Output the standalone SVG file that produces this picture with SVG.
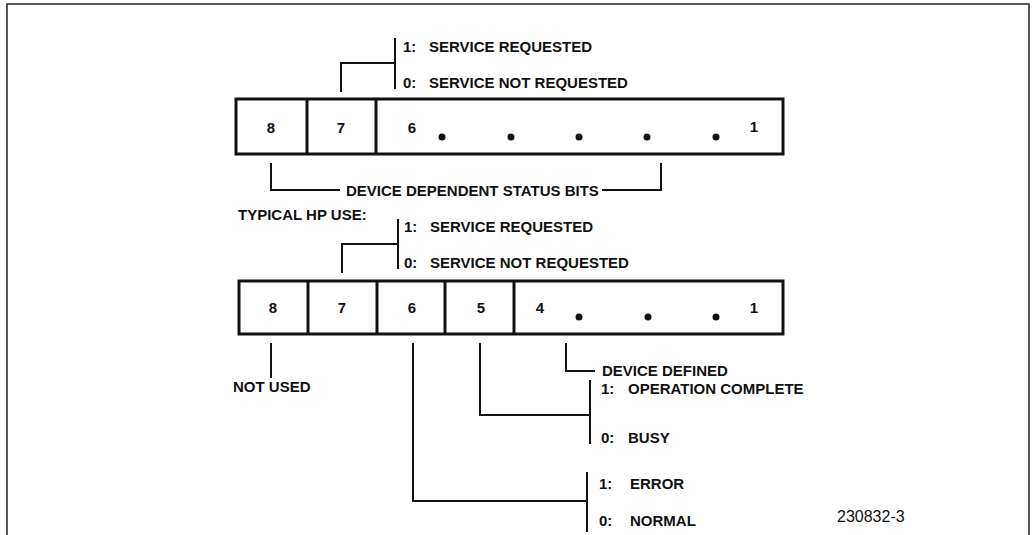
<svg xmlns="http://www.w3.org/2000/svg" width="1036" height="535" viewBox="0 0 1036 535">
<style>
text{font-family:"Liberation Sans",Arial,sans-serif;font-weight:bold;font-size:15px;fill:#111}
.c{text-anchor:middle}
.box{fill:none;stroke:#111;stroke-width:3}
.ln{fill:none;stroke:#111;stroke-width:2}
.frame{fill:none;stroke:#222;stroke-width:1.5}
.dot{fill:#111}
.id{font-weight:normal;font-size:16px}
</style>
<rect width="1036" height="535" fill="#fff"/>
<path class="frame" d="M7,535 V4 H1029 V535"/>

<g id="register-top">
<rect class="box" x="236" y="99" width="547" height="55"/>
<line class="box" x1="307" y1="99" x2="307" y2="154"/>
<line class="box" x1="376" y1="99" x2="376" y2="154"/>
<text class="c" x="271" y="133">8</text>
<text class="c" x="341" y="133">7</text>
<text class="c" x="412" y="133">6</text>
<circle class="dot" cx="442" cy="137" r="3.5"/>
<circle class="dot" cx="511" cy="137" r="3.5"/>
<circle class="dot" cx="579" cy="137" r="3.5"/>
<circle class="dot" cx="647" cy="137" r="3.5"/>
<circle class="dot" cx="716" cy="137" r="3.5"/>
<text class="c" x="754" y="132">1</text>
</g>

<g id="label-top-srq">
<text x="403" y="52">1:</text><text x="429" y="52">SERVICE REQUESTED</text>
<text x="403" y="88">0:</text><text x="429" y="88">SERVICE NOT REQUESTED</text>
</g>
<g id="label-device-dependent">
<text x="346" y="195.5">DEVICE DEPENDENT STATUS BITS</text>
</g>
<g id="label-typical">
<text x="238" y="220">TYPICAL HP USE:</text>
</g>

<g id="register-bottom">
<rect class="box" x="239" y="281" width="544" height="53"/>
<line class="box" x1="308" y1="281" x2="308" y2="334"/>
<line class="box" x1="377" y1="281" x2="377" y2="334"/>
<line class="box" x1="445" y1="281" x2="445" y2="334"/>
<line class="box" x1="514" y1="281" x2="514" y2="334"/>
<text class="c" x="273" y="313">8</text>
<text class="c" x="342" y="313">7</text>
<text class="c" x="412" y="313">6</text>
<text class="c" x="481" y="313">5</text>
<text class="c" x="540" y="313">4</text>
<circle class="dot" cx="579" cy="317" r="3.5"/>
<circle class="dot" cx="648" cy="317" r="3.5"/>
<circle class="dot" cx="716" cy="317" r="3.5"/>
<text class="c" x="754" y="313">1</text>
</g>

<g id="label-bottom-srq">
<text x="404" y="232">1:</text><text x="430" y="232">SERVICE REQUESTED</text>
<text x="404" y="268">0:</text><text x="430" y="268">SERVICE NOT REQUESTED</text>
</g>
<g id="label-not-used"><text x="233" y="392">NOT USED</text></g>
<g id="label-device-defined"><text x="602" y="376">DEVICE DEFINED</text></g>
<g id="label-op">
<text x="601" y="394">1:</text><text x="628" y="394">OPERATION COMPLETE</text>
<text x="601" y="443">0:</text><text x="628" y="443">BUSY</text>
</g>
<g id="label-err">
<text x="599" y="489">1:</text><text x="630" y="489">ERROR</text>
<text x="599" y="526">0:</text><text x="630" y="526">NORMAL</text>
</g>
<g id="figure-id"><text class="id" x="837" y="522">230832-3</text></g>

<g id="connectors">
<polyline class="ln" points="341,92 341,63 395,63"/>
<line class="ln" x1="395" y1="38" x2="395" y2="89"/>
<polyline class="ln" points="271,163 271,190 340,190"/>
<polyline class="ln" points="602,190 661,190 661,163"/>
<polyline class="ln" points="342,273 342,244 398,244"/>
<line class="ln" x1="398" y1="219" x2="398" y2="269"/>
<line class="ln" x1="271" y1="343" x2="271" y2="378"/>
<polyline class="ln" points="413,343 413,501 587,501"/>
<line class="ln" x1="587" y1="472" x2="587" y2="532"/>
<polyline class="ln" points="480,343 480,415 590,415"/>
<line class="ln" x1="590" y1="380" x2="590" y2="444"/>
<polyline class="ln" points="566,343 566,371 595,371"/>
</g>
</svg>
